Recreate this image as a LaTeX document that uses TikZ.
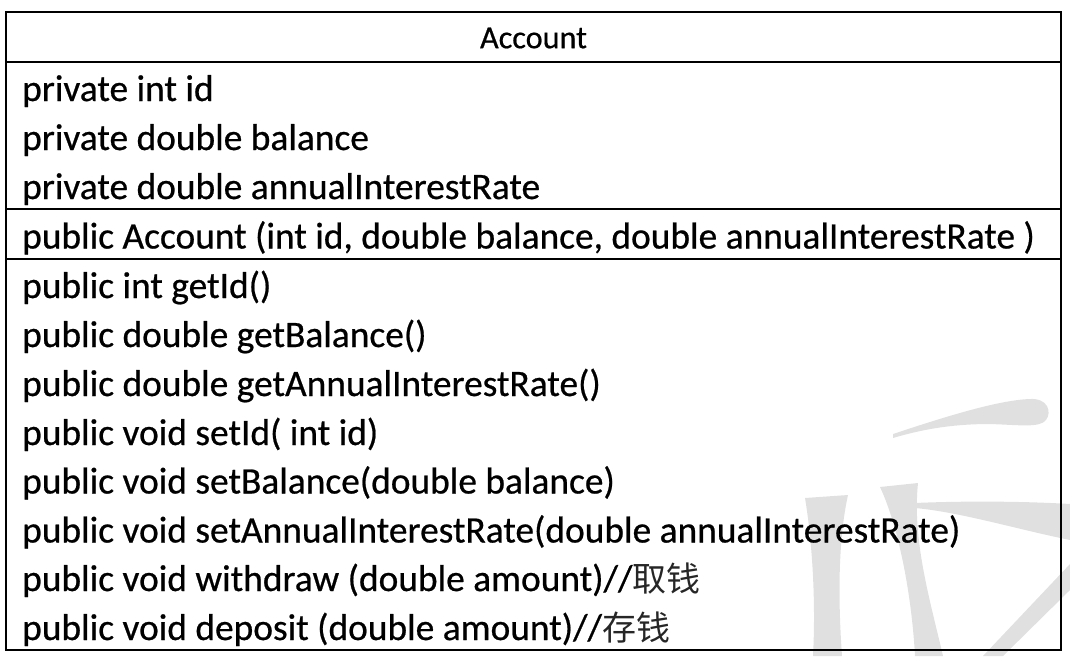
\documentclass[tikz,border=0pt]{standalone}
\usepackage{fontspec}
\setmainfont[FakeBold=0.6]{Carlito}
\newfontfamily\cjk{Noto Sans CJK SC}
\definecolor{wm}{RGB}{224,224,224}
\begin{document}
\begin{tikzpicture}[x=1pt,y=-1pt,
  rowtext/.style={anchor=base west, inner sep=0pt, font=\fontsize{37.4}{40}\selectfont},
  headtext/.style={anchor=center, inner sep=0pt, font=\fontsize{32.2}{36}\selectfont},
  outer/.style={draw=black, line width=1.8pt},
  sep/.style={draw=black, line width=1.3pt},
  wmark/.style={fill=wm, draw=none}]
\useasboundingbox (0,0) rectangle (1070,656);
% watermark
\fill[wmark] (893,434) .. controls (950,415) and (1000,400) .. (1030,399)
  .. controls (1048,398) and (1052,412) .. (1046,420)
  .. controls (1040,428) and (1020,425) .. (990,424)
  .. controls (950,424) and (920,430) .. (893,438) -- cycle;
\fill[wmark] (915,503) .. controls (960,501) and (1020,501) .. (1070,504)
  -- (1070,540) .. controls (1020,530) and (960,512) .. (915,508) -- cycle;
\fill[wmark] (805,498) .. controls (812,540) and (816,600) .. (813,656)
  -- (842,656) .. controls (838,600) and (838,540) .. (848,495) -- cycle;
\fill[wmark] (880,487) .. controls (900,530) and (912,600) .. (915,656)
  -- (943,656) .. controls (930,600) and (912,540) .. (918,483) -- cycle;
\fill[wmark] (1070,564) -- (1070,590) -- (1003,656) -- (983,656) -- cycle;
% table frame
\coordinate (tl) at (6,12);
\coordinate (br) at (1061,650);
\coordinate (h1l) at (6,62);   \coordinate (h1r) at (1061,62);
\coordinate (h2l) at (6,209);  \coordinate (h2r) at (1061,209);
\coordinate (h3l) at (6,259);  \coordinate (h3r) at (1061,259);
\draw[sep] (h1l) -- (h1r);
\draw[sep] (h2l) -- (h2r);
\draw[sep] (h3l) -- (h3r);
\draw[outer] (tl) rectangle (br);
% header
\node[headtext] (head) at (533.5,38) {Account};
% attributes
\node[rowtext] (a1) at (22,101) {private int id};
\node[rowtext] (a2) at (22,150) {private double balance};
\node[rowtext] (a3) at (22,199) {private double annualInterestRate};
% constructor
\node[rowtext] (c1) at (22,248.5) {public Account (int id, double balance, double annualInterestRate )};
% methods
\node[rowtext] (m1) at (22,298) {public int getId()};
\node[rowtext] (m2) at (22,347) {public double getBalance()};
\node[rowtext] (m3) at (22,396) {public double getAnnualInterestRate()};
\node[rowtext] (m4) at (22,445) {public void setId( int id)};
\node[rowtext] (m5) at (22,493.5) {public void setBalance(double balance)};
\node[rowtext] (m6) at (22,542.5) {public void setAnnualInterestRate(double annualInterestRate)};
\node[rowtext] (m7) at (22,591) {public void withdraw (double amount)//{\cjk\fontsize{34}{36}\selectfont\color{black!85}取钱}};
\node[rowtext] (m8) at (22,640) {public void deposit (double amount)//{\cjk\fontsize{34}{36}\selectfont\color{black!85}存钱}};
\end{tikzpicture}
\end{document}
